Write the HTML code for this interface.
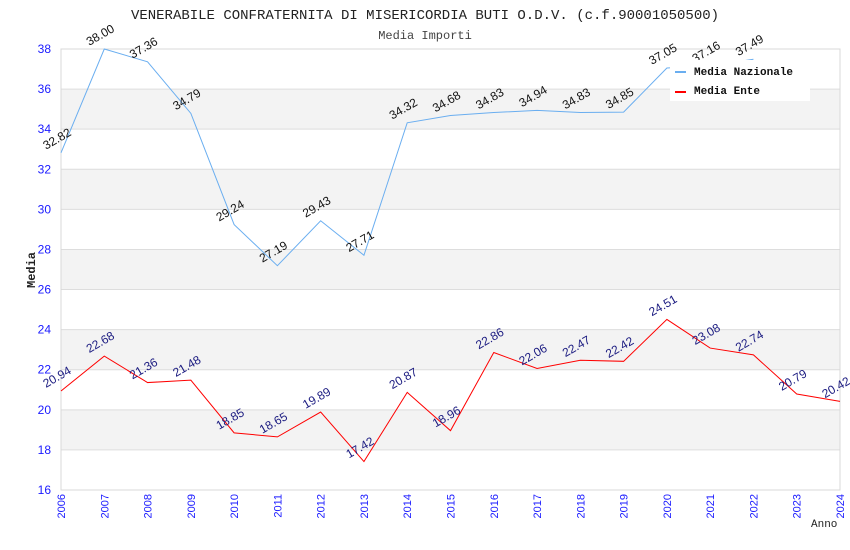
<!DOCTYPE html>
<html><head><meta charset="utf-8"><style>body{margin:0;background:#fff}svg{display:block}</style></head>
<body>
<svg id="c" width="850" height="550" xmlns="http://www.w3.org/2000/svg">
<text x="425" y="19" text-anchor="middle" font-family="Liberation Mono, monospace" font-size="14" fill="#222">VENERABILE CONFRATERNITA DI MISERICORDIA BUTI O.D.V. (c.f.90001050500)</text>
<text x="425" y="39" text-anchor="middle" font-family="Liberation Mono, monospace" font-size="12" fill="#444">Media Importi</text>
<g id="grid"></g><g id="axes"></g><g id="series"></g><g id="labels"></g>
<text transform="translate(35,270) rotate(-90)" text-anchor="middle" font-family="Liberation Mono, monospace" font-weight="bold" font-size="12" fill="#222">Media</text>
<text x="811" y="527" font-family="Liberation Mono, monospace" font-size="11" fill="#222">Anno</text>
<g>
<rect x="670" y="60" width="140" height="41" fill="#fff"/>
<rect x="675" y="71" width="11" height="2" fill="#6aaef0"/>
<text x="694" y="75" font-family="Liberation Mono, monospace" font-weight="bold" font-size="11" fill="#111">Media Nazionale</text>
<rect x="675" y="91" width="11" height="2" fill="#f00"/>
<text x="694" y="94" font-family="Liberation Mono, monospace" font-weight="bold" font-size="11" fill="#111">Media Ente</text>
</g>
</svg>
<script>
const years=[2006,2007,2008,2009,2010,2011,2012,2013,2014,2015,2016,2017,2018,2019,2020,2021,2022,2023,2024];
const nazionale=[32.82,38.00,37.36,34.79,29.24,27.19,29.43,27.71,34.32,34.68,34.83,34.94,34.83,34.85,37.05,37.16,37.49];
const ente=[20.94,22.68,21.36,21.48,18.85,18.65,19.89,17.42,20.87,18.96,22.86,22.06,22.47,22.42,24.51,23.08,22.74,20.79,20.42];
const yTicks=[16,18,20,22,24,26,28,30,32,34,36,38];
const NS="http://www.w3.org/2000/svg";
const X0=61,X1=840,Y0=490,Y1=49,ymin=16,ymax=38;
const x=i=>X0+(X1-X0)*i/(years.length-1);
const y=v=>Y0-(Y0-Y1)*(v-ymin)/(ymax-ymin);
function mk(t,a,p){const e=document.createElementNS(NS,t);for(const k in a)e.setAttribute(k,a[k]);p.appendChild(e);return e;}
const grid=document.getElementById('grid'),axes=document.getElementById('axes'),ser=document.getElementById('series'),lab=document.getElementById('labels');
for(let i=0;i<yTicks.length-1;i++){
  if(i%2==1){const r=mk('rect',{x:X0,y:y(yTicks[i+1]),width:X1-X0,height:y(yTicks[i])-y(yTicks[i+1]),fill:'#f3f3f3'},grid);
  
  }
}
yTicks.forEach(t=>{
  const l=mk('line',{x1:X0,x2:X1,y1:y(t),y2:y(t),stroke:'#ddd'},grid);
  
  
  const tx=mk('text',{x:X0-10,y:y(t)+4,'text-anchor':'end','font-family':'Liberation Sans, sans-serif','font-size':12,fill:'#1a1aff'},axes);
  tx.textContent=t;
  
  
});
mk('rect',{x:X0,y:Y1,width:X1-X0,height:Y0-Y1,fill:'none',stroke:'#d8d8d8'},axes);
years.forEach((yr,i)=>{
  const tx=mk('text',{transform:`translate(${x(i)+4},${Y0+4}) rotate(-90)`,'text-anchor':'end','font-family':'Liberation Sans, sans-serif','font-size':11,fill:'#1a1aff'},axes);
  tx.textContent=yr;
  
  
});
function series(vals,color,lc,name){
  const p=mk('polyline',{points:vals.map((v,i)=>x(i)+','+y(v)).join(' '),fill:'none',stroke:color,'stroke-width':1},ser);
  
  
  vals.forEach((v,i)=>{
    const t=mk('text',{transform:`translate(${x(i)-15},${y(v)-3}) rotate(-30)`,'text-anchor':'start','font-family':'Liberation Sans, sans-serif','font-size':12,fill:lc},lab);
    t.textContent=v.toFixed(2);
    
    
  });
}
series(nazionale,'#6aaef0','#111','nazionale');
series(ente,'#f00','#1a1a80','ente');
</script>
</body></html>
